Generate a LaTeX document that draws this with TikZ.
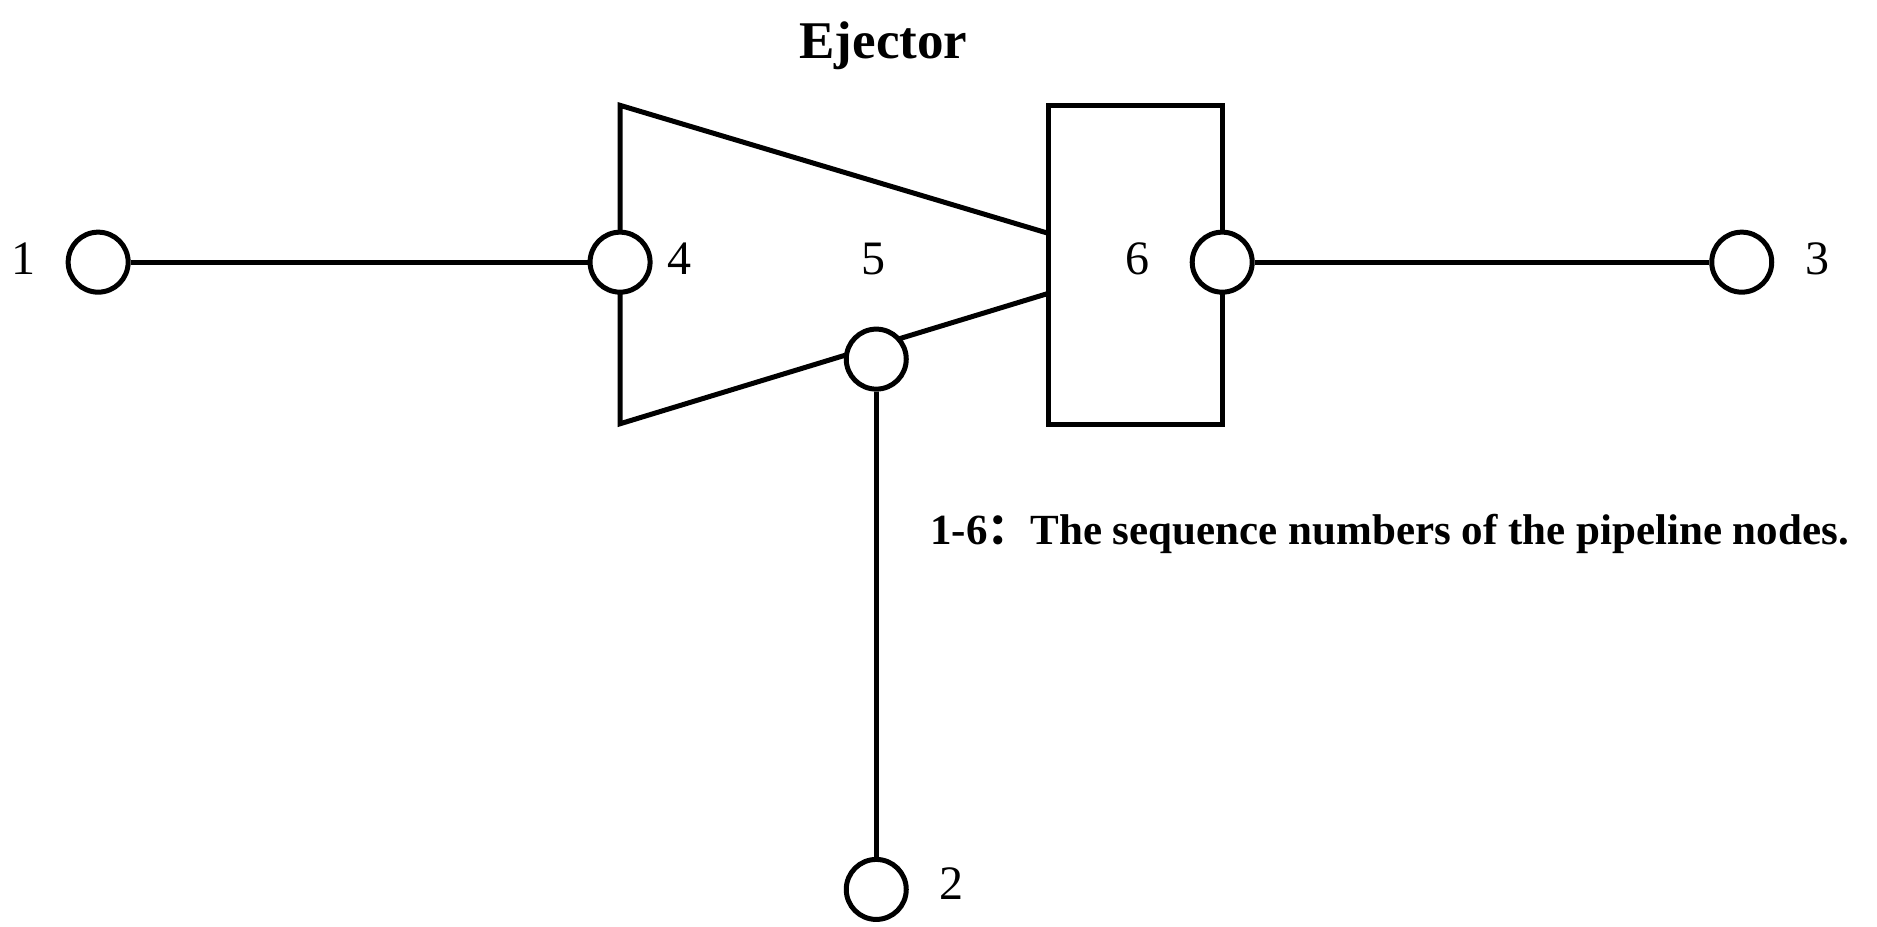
\documentclass[tikz,border=0pt]{standalone}
\usepackage{fontspec}
\setmainfont{Liberation Serif}
\newfontfamily\cjkf{Noto Sans CJK SC}
\begin{document}
\begin{tikzpicture}[x=1.197pt,y=-1.197pt,line width=5pt,
  port/.style={circle,draw,fill=white,minimum size=60pt,inner sep=0pt},
  lab/.style={font=\fontsize{48}{48}\selectfont}]
\useasboundingbox (0,0) rectangle (1568,773.6);
\coordinate (tA) at (518,88);
\coordinate (tB) at (876,195);
\coordinate (tC) at (876,245);
\coordinate (tD) at (518,354);
\draw (tB) -- (tA) -- (tD) -- (tC);
\coordinate (b1) at (876,88);
\coordinate (b2) at (1021,355);
\draw (b1) rectangle (b2);
\node[port] (n1) at (82,219) {};
\node[port] (n4) at (518,219) {};
\node[port] (n5) at (732,300) {};
\node[port] (n6) at (1021,219) {};
\node[port] (n3) at (1455,219) {};
\node[port] (n2) at (732,743) {};
\draw (n1) -- (n4);
\draw (n6) -- (n3);
\draw (n5) -- (n2);
\node[lab] (l1) at (20,216) {1};
\node[lab] (l4) at (568,216) {4};
\node[lab] (l5) at (730,216) {5};
\node[lab] (l6) at (950,216) {6};
\node[lab] (l3) at (1518,216) {3};
\node[lab] (l2) at (795,738) {2};
\node[font=\fontsize{53}{53}\selectfont\bfseries] (ej) at (738,38) {Ejector};
\node[font=\fontsize{43}{43}\selectfont\bfseries,anchor=west,inner sep=0pt] (cap) at (775,446) {1-6{\cjkf ：}The sequence numbers of the pipeline nodes.};
\end{tikzpicture}
\end{document}
